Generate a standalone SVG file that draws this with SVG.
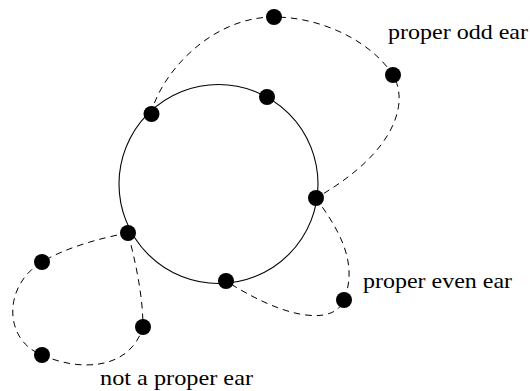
<svg xmlns="http://www.w3.org/2000/svg" width="530" height="391" viewBox="0 0 530 391">
<style>
.cyc{fill:none;stroke:#000;stroke-width:1.1}
.ear{fill:none;stroke:#000;stroke-width:1;stroke-dasharray:6.5 5}
.v{fill:#000}
.lbl{font-family:"Liberation Serif",serif;font-size:21px;fill:#000}
</style>
<rect width="530" height="391" fill="#fff"/>
<g id="connectors">
<circle class="cyc" cx="218.5" cy="184" r="99.5"/>
<path class="ear" d="M151,114 C160,75 210,17 274,17 C320,17 370,40 393,75 C408,100 400,150 316,198"/>
<path class="ear" d="M316,198 C335,225 360,260 344,300 C336,322 295,325 226,281"/>
<path class="ear" d="M128,233 C100,238 65,248 42,262 C3,285 3,340 42,355 C80,372 130,370 143,327 C143,295 135,260 128,233"/>
</g>
<g id="nA"><circle class="v" cx="151.5" cy="114" r="8"/></g>
<g id="nB"><circle class="v" cx="267" cy="97" r="8"/></g>
<g id="nC"><circle class="v" cx="316" cy="198" r="8"/></g>
<g id="nD"><circle class="v" cx="128" cy="233" r="8"/></g>
<g id="nE"><circle class="v" cx="226" cy="281" r="8"/></g>
<g id="nF"><circle class="v" cx="274" cy="17" r="8"/></g>
<g id="nG"><circle class="v" cx="393" cy="75" r="8"/></g>
<g id="nH"><circle class="v" cx="344" cy="300" r="8"/></g>
<g id="nI"><circle class="v" cx="42" cy="262" r="8"/></g>
<g id="nJ"><circle class="v" cx="42" cy="355" r="8"/></g>
<g id="nK"><circle class="v" cx="143" cy="327" r="8"/></g>
<g id="labels">
<text class="lbl" x="388" y="39" textLength="140" lengthAdjust="spacingAndGlyphs">proper odd ear</text>
<text class="lbl" x="363" y="288" textLength="149" lengthAdjust="spacingAndGlyphs">proper even ear</text>
<text class="lbl" x="100" y="385" textLength="153" lengthAdjust="spacingAndGlyphs">not a proper ear</text>
</g>
</svg>
